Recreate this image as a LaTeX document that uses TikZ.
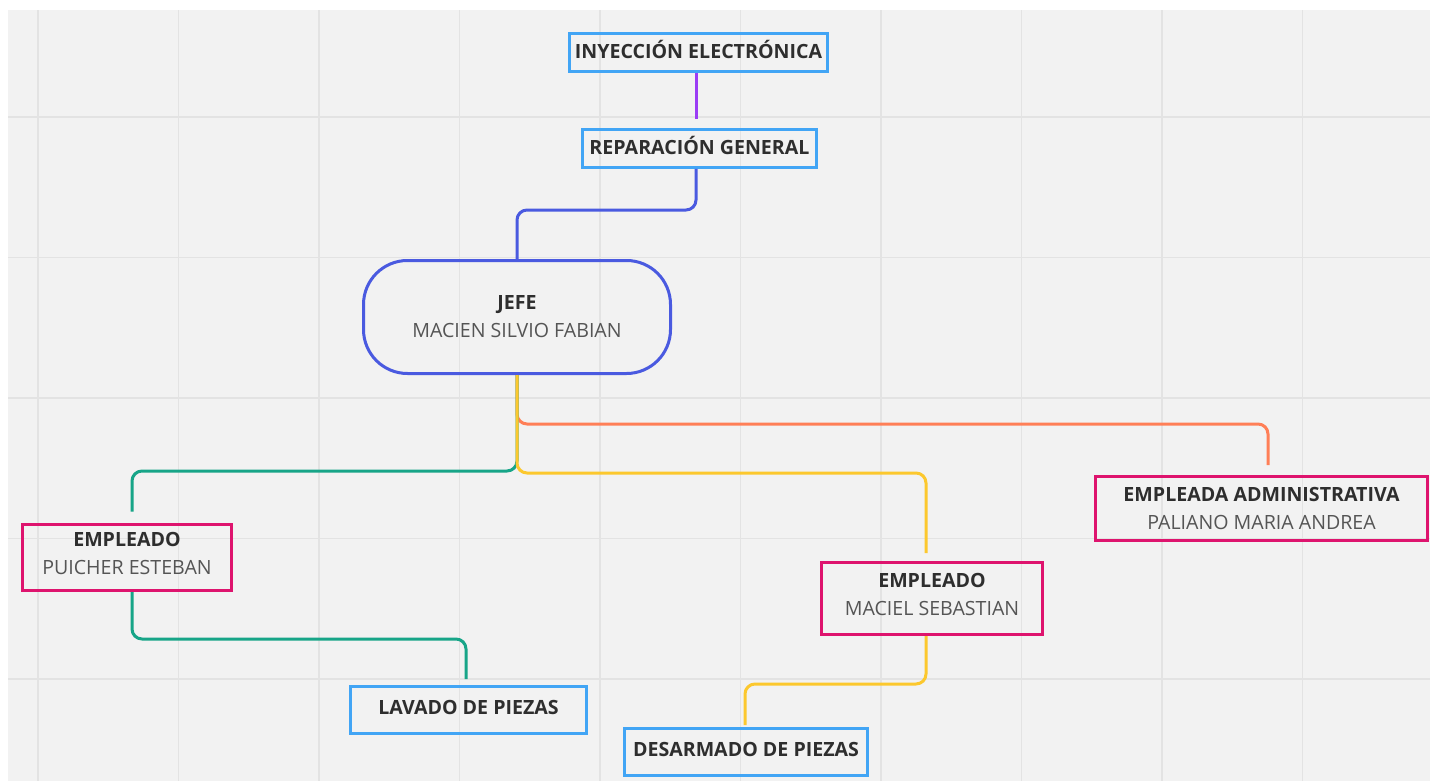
\documentclass[tikz,border=0pt]{standalone}
\usepackage{fontspec}
\setmainfont{Open Sans}
\usetikzlibrary{calc}

\definecolor{canvas}{HTML}{F2F2F2}
\definecolor{gridline}{HTML}{E3E3E3}
\definecolor{boxblue}{HTML}{42A5F5}
\definecolor{boxpink}{HTML}{DE146E}
\definecolor{linkpurple}{HTML}{9B3CF5}
\definecolor{linkblue}{HTML}{4A5AE0}
\definecolor{linkorange}{HTML}{FF7F57}
\definecolor{linkyellow}{HTML}{FCC82E}
\definecolor{linkgreen}{HTML}{17A588}
\definecolor{titletext}{HTML}{2E2E2E}
\definecolor{nametext}{HTML}{555555}

\tikzset{
  taskbox/.style={draw=boxblue, line width=3, rectangle, inner sep=0,
    font=\fontsize{19.6}{22}\selectfont\bfseries, text=titletext},
  personbox/.style={draw=boxpink, line width=3, rectangle, inner sep=0,
    align=center, font=\fontsize{19.6}{28}\selectfont, text=titletext},
  bossbox/.style={draw=linkblue, line width=3, rectangle, rounded corners=44,
    inner sep=0, align=center, font=\fontsize{19.6}{28}\selectfont, text=titletext},
  link/.style={line width=3, rounded corners=10},
}
\newcommand{\roleline}[1]{\textbf{#1}}
\newcommand{\nameline}[1]{\textcolor{nametext}{#1}}
% single-line label set a little above the box centre
\newcommand{\tasklabel}[1]{\raisebox{3pt}[\height][\depth]{#1}}

\begin{document}
\begin{tikzpicture}[x=1pt, y=-1pt]
  \useasboundingbox (0,0) rectangle (1430,781);
  % canvas and grid
  \fill[canvas] (8,10) rectangle (1430,781);
  \foreach \gx in {38,178.5,319,459.5,600,740.5,881,1021.5,1162,1302.5}
    \draw[gridline, line width=1.5] (\gx,10) -- (\gx,781);
  \foreach \gy in {117,257.5,398,538.5,679}
    \draw[gridline, line width=1.5] (8,\gy) -- (1430,\gy);

  % nodes
  \node[taskbox, minimum width=258, minimum height=38] (iny) at (698.5,52.5) {\tasklabel{INYECCIÓN ELECTRÓNICA}};
  \node[taskbox, minimum width=234, minimum height=38] (rep) at (699.5,148.5) {\tasklabel{REPARACIÓN GENERAL}};
  \node[bossbox, minimum width=307, minimum height=113] (jefe) at (517,317)
    {\roleline{JEFE}\\\nameline{MACIEN SILVIO FABIAN}};
  \node[personbox, minimum width=209, minimum height=66] (emp1) at (127,557.5)
    {\roleline{EMPLEADO}\\\nameline{PUICHER ESTEBAN}\\[-20pt]};
  \node[taskbox, minimum width=236, minimum height=47] (lav) at (468.5,710) {\tasklabel{LAVADO DE PIEZAS}};
  \node[personbox, minimum width=221, minimum height=72] (mac) at (932,598.5)
    {\roleline{EMPLEADO}\\\nameline{MACIEL SEBASTIAN}\\[-20pt]};
  \node[taskbox, minimum width=243, minimum height=47] (des) at (746,752) {\tasklabel{DESARMADO DE PIEZAS}};
  \node[personbox, minimum width=332, minimum height=64] (adm) at (1261.5,508.5)
    {\roleline{EMPLEADA ADMINISTRATIVA}\\\nameline{PALIANO MARIA ANDREA}};

  % connectors
  \draw[link, linkpurple, shorten >=9] ([xshift=-2.5]iny.south) -- ([xshift=-3.5]rep.north);
  \draw[link, linkblue] ([xshift=-3.5]rep.south) -- ++(0,41) -| (jefe.north);
  \draw[link, linkorange, shorten >=10] (jefe.south) -- ++(0,49) -| ([xshift=6.5]adm.north);
  \draw[link, linkgreen, shorten >=11.5] (jefe.south) -- ++(0,96) -| ([xshift=5]emp1.north);
  \draw[link, linkyellow, shorten >=8] (jefe.south) -- ++(0,98) -| ([xshift=-6]mac.north);
  \draw[link, linkgreen, shorten >=6] ([xshift=5]emp1.south) -- ++(0,47) -| ([xshift=-2.5]lav.north);
  \draw[link, linkyellow, shorten >=2] ([xshift=-6]mac.south) -- ++(0,48) -| ([xshift=-1]des.north);
\end{tikzpicture}
\end{document}
